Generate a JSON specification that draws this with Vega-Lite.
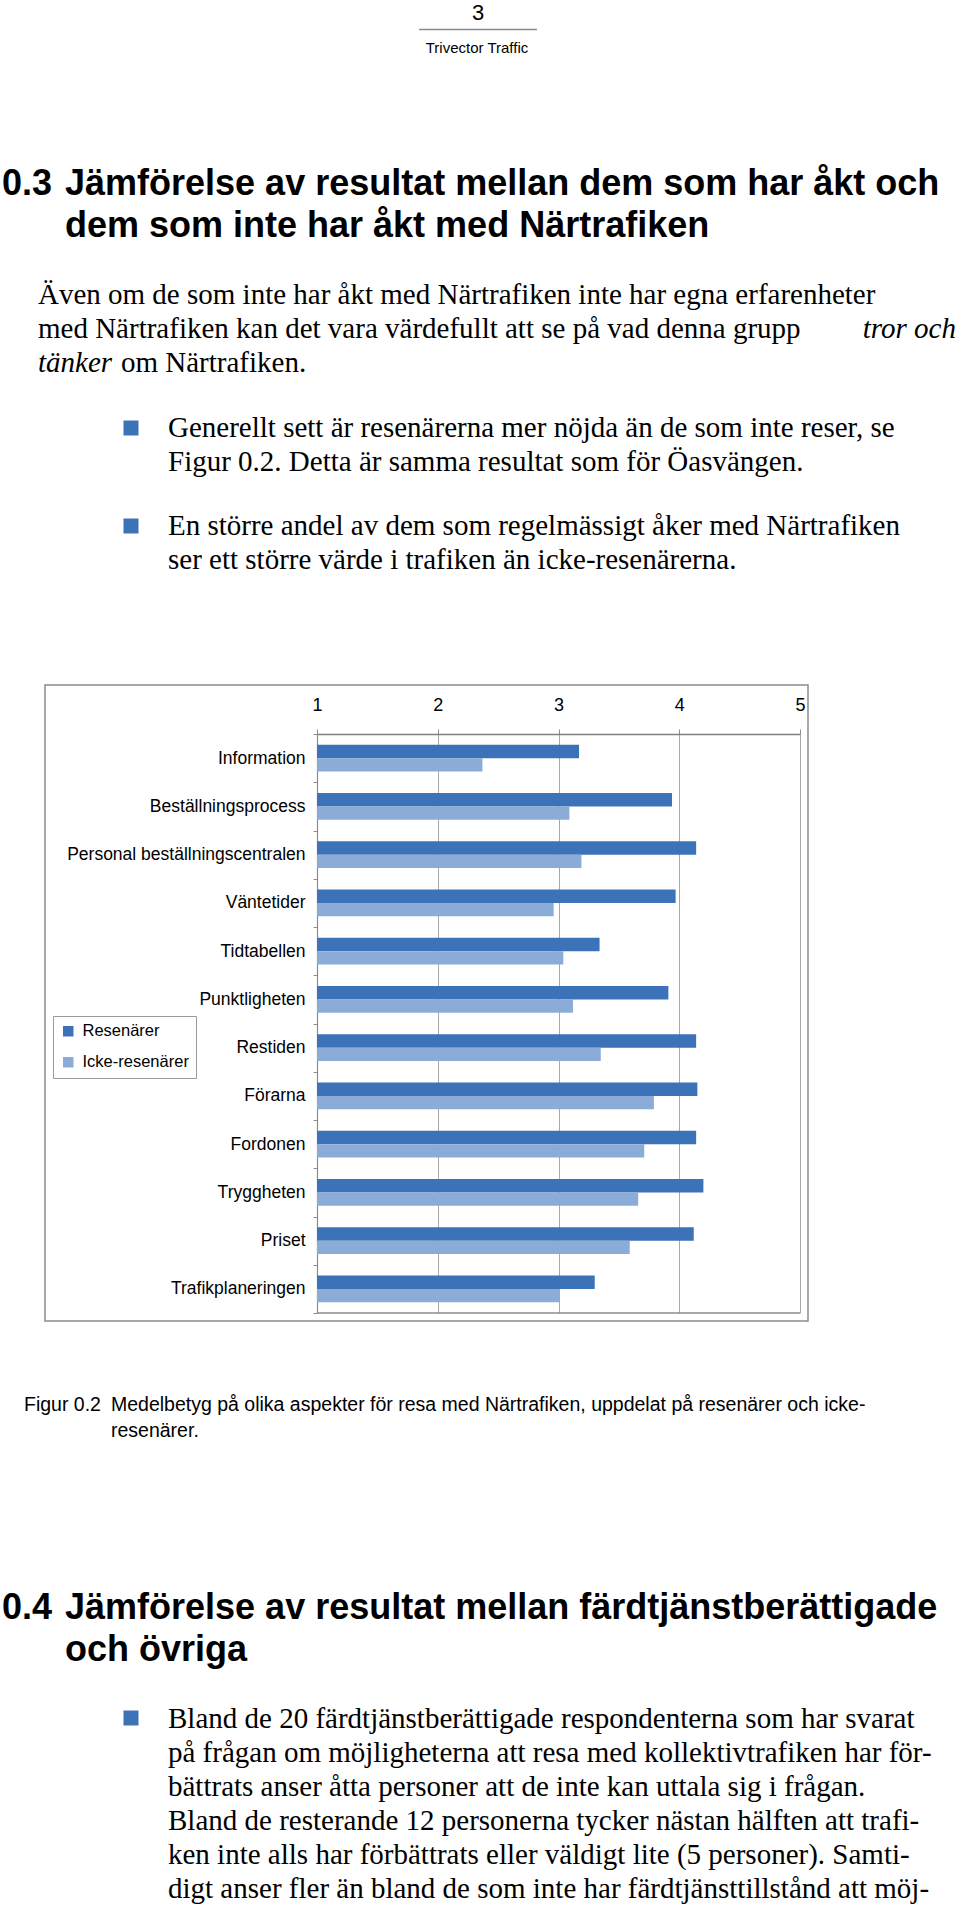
{
  "$schema": "https://vega.github.io/schema/vega-lite/v6.json",
  "background": "white",
  "padding": 0,
  "spacing": 0,
  "config": {"view": {"stroke": null}, "font": "Liberation Sans"},
  "vconcat": [
    {
      "width": 960,
      "height": 675,
      "layer": [
        {"data": {"values": [{"text": "3"}]}, "mark": {"type": "text", "x": 478, "y": 20, "align": "center", "baseline": "alphabetic", "fontSize": 22, "font": "Liberation Sans", "color": "black"}, "encoding": {"text": {"field": "text"}}},
        {"data": {"values": [{"id": "rule"}]}, "mark": {"type": "rule", "color": "#8a8a8a", "strokeWidth": 1.5}, "encoding": {"x": {"value": 419}, "x2": {"value": 537}, "y": {"value": 29.5}}},
        {"data": {"values": [{"text": "Trivector Traffic"}]}, "mark": {"type": "text", "x": 477, "y": 53, "align": "center", "baseline": "alphabetic", "fontSize": 15, "font": "Liberation Sans", "color": "black"}, "encoding": {"text": {"field": "text"}}},
        {"data": {"values": [{"text": "0.3"}]}, "mark": {"type": "text", "x": 2, "y": 195, "align": "left", "baseline": "alphabetic", "fontSize": 36, "fontWeight": "bold", "font": "Liberation Sans", "color": "black"}, "encoding": {"text": {"field": "text"}}},
        {"data": {"values": [{"text": "Jämförelse av resultat mellan dem som har åkt och\ndem som inte har åkt med Närtrafiken"}]}, "mark": {"type": "text", "x": 65, "y": 195, "align": "left", "baseline": "alphabetic", "lineBreak": "\n", "lineHeight": 42, "fontSize": 36, "fontWeight": "bold", "font": "Liberation Sans", "color": "black"}, "encoding": {"text": {"field": "text"}}},
        {"data": {"values": [{"text": "Även om de som inte har åkt med Närtrafiken inte har egna erfarenheter\nmed Närtrafiken kan det vara värdefullt att se på vad denna grupp"}]}, "mark": {"type": "text", "x": 38, "y": 304, "align": "left", "baseline": "alphabetic", "lineBreak": "\n", "lineHeight": 34, "fontSize": 29, "font": "Liberation Serif", "color": "black"}, "encoding": {"text": {"field": "text"}}},
        {"data": {"values": [{"text": "tror och"}]}, "mark": {"type": "text", "x": 956, "y": 338, "align": "right", "baseline": "alphabetic", "fontSize": 29, "fontStyle": "italic", "font": "Liberation Serif", "color": "black"}, "encoding": {"text": {"field": "text"}}},
        {"data": {"values": [{"text": "tänker"}]}, "mark": {"type": "text", "x": 38, "y": 372, "align": "left", "baseline": "alphabetic", "fontSize": 29, "fontStyle": "italic", "font": "Liberation Serif", "color": "black"}, "encoding": {"text": {"field": "text"}}},
        {"data": {"values": [{"text": "om Närtrafiken."}]}, "mark": {"type": "text", "x": 121, "y": 372, "align": "left", "baseline": "alphabetic", "fontSize": 29, "font": "Liberation Serif", "color": "black"}, "encoding": {"text": {"field": "text"}}},
        {"data": {"values": [{"bullet": 1}]}, "mark": {"type": "point", "shape": "square", "filled": true, "size": 225, "opacity": 1, "color": "#3C72B8", "x": 131, "y": 428}, "encoding": {}},
        {"data": {"values": [{"text": "Generellt sett är resenärerna mer nöjda än de som inte reser, se\nFigur 0.2. Detta är samma resultat som för Öasvängen."}]}, "mark": {"type": "text", "x": 168, "y": 437, "align": "left", "baseline": "alphabetic", "lineBreak": "\n", "lineHeight": 34, "fontSize": 29, "font": "Liberation Serif", "color": "black"}, "encoding": {"text": {"field": "text"}}},
        {"data": {"values": [{"bullet": 2}]}, "mark": {"type": "point", "shape": "square", "filled": true, "size": 225, "opacity": 1, "color": "#3C72B8", "x": 131, "y": 526}, "encoding": {}},
        {"data": {"values": [{"text": "En större andel av dem som regelmässigt åker med Närtrafiken\nser ett större värde i trafiken än icke-resenärerna."}]}, "mark": {"type": "text", "x": 168, "y": 535, "align": "left", "baseline": "alphabetic", "lineBreak": "\n", "lineHeight": 34, "fontSize": 29, "font": "Liberation Serif", "color": "black"}, "encoding": {"text": {"field": "text"}}}
      ]
    },
    {
      "spacing": 0,
      "hconcat": [
        {"width": 44, "height": 636, "data": {"values": []}, "mark": {"type": "point", "opacity": 0}, "encoding": {}},
        {
          "width": 763,
          "height": 636,
          "view": {"stroke": "#8c8c8c", "strokeWidth": 1.5},
          "data": {"values": [
            {"aspect": "Information", "group": "Resenärer", "value": 3.17},
            {"aspect": "Information", "group": "Icke-resenärer", "value": 2.37},
            {"aspect": "Beställningsprocess", "group": "Resenärer", "value": 3.94},
            {"aspect": "Beställningsprocess", "group": "Icke-resenärer", "value": 3.09},
            {"aspect": "Personal beställningscentralen", "group": "Resenärer", "value": 4.14},
            {"aspect": "Personal beställningscentralen", "group": "Icke-resenärer", "value": 3.19},
            {"aspect": "Väntetider", "group": "Resenärer", "value": 3.97},
            {"aspect": "Väntetider", "group": "Icke-resenärer", "value": 2.96},
            {"aspect": "Tidtabellen", "group": "Resenärer", "value": 3.34},
            {"aspect": "Tidtabellen", "group": "Icke-resenärer", "value": 3.04},
            {"aspect": "Punktligheten", "group": "Resenärer", "value": 3.91},
            {"aspect": "Punktligheten", "group": "Icke-resenärer", "value": 3.12},
            {"aspect": "Restiden", "group": "Resenärer", "value": 4.14},
            {"aspect": "Restiden", "group": "Icke-resenärer", "value": 3.35},
            {"aspect": "Förarna", "group": "Resenärer", "value": 4.15},
            {"aspect": "Förarna", "group": "Icke-resenärer", "value": 3.79},
            {"aspect": "Fordonen", "group": "Resenärer", "value": 4.14},
            {"aspect": "Fordonen", "group": "Icke-resenärer", "value": 3.71},
            {"aspect": "Tryggheten", "group": "Resenärer", "value": 4.2},
            {"aspect": "Tryggheten", "group": "Icke-resenärer", "value": 3.66},
            {"aspect": "Priset", "group": "Resenärer", "value": 4.12},
            {"aspect": "Priset", "group": "Icke-resenärer", "value": 3.59},
            {"aspect": "Trafikplaneringen", "group": "Resenärer", "value": 3.3},
            {"aspect": "Trafikplaneringen", "group": "Icke-resenärer", "value": 3.01}
          ]},
          "layer": [
            {
              "mark": {"type": "bar"},
              "encoding": {
                "y": {
                  "field": "aspect", "type": "nominal",
                  "sort": ["Information", "Beställningsprocess", "Personal beställningscentralen", "Väntetider", "Tidtabellen", "Punktligheten", "Restiden", "Förarna", "Fordonen", "Tryggheten", "Priset", "Trafikplaneringen"],
                  "scale": {"range": [49, 628], "paddingInner": 0, "paddingOuter": 0},
                  "axis": {"orient": "left", "offset": -272, "title": null, "tickBand": "extent", "tickSize": 4, "tickColor": "#8c8c8c", "domainColor": "#8c8c8c", "domainWidth": 1.2, "labelPadding": 8, "labelFontSize": 17.5, "labelColor": "black", "labelFont": "Liberation Sans", "labelLimit": 400, "grid": false}
                },
                "yOffset": {"field": "group", "type": "nominal", "sort": ["Resenärer", "Icke-resenärer"], "scale": {"paddingInner": 0, "paddingOuter": 0.8}},
                "x": {
                  "field": "value", "type": "quantitative",
                  "scale": {"domain": [1, 5], "range": [272, 755], "zero": false, "nice": false},
                  "axis": {"orient": "top", "offset": -49, "values": [1, 2, 3, 4, 5], "format": "d", "title": null, "tickSize": 5, "tickColor": "#8c8c8c", "domainColor": "#7f7f7f", "domainWidth": 1.5, "labelPadding": 15, "labelFontSize": 18, "labelColor": "black", "labelFont": "Liberation Sans", "labelFlush": false, "grid": true, "gridColor": "#a8a8a8", "gridWidth": 1}
                },
                "x2": {"datum": 1},
                "color": {
                  "field": "group", "type": "nominal",
                  "scale": {"domain": ["Resenärer", "Icke-resenärer"], "range": ["#3C72B8", "#8CACD8"]},
                  "legend": {"orient": "none", "legendX": 53, "legendY": 1016, "title": null, "symbolType": "square", "symbolSize": 110, "symbolStrokeWidth": 0, "labelFontSize": 16.5, "labelFont": "Liberation Sans", "labelColor": "black", "strokeColor": "#9a9a9a", "padding": 7, "rowPadding": 14, "labelOffset": 6}
                }
              }
            },
            {
              "transform": [{"filter": "datum.aspect === 'Trafikplaneringen' && datum.group === 'Resenärer'"}],
              "mark": {"type": "rule", "color": "#8c8c8c", "strokeWidth": 1.5},
              "encoding": {
                "y": {"field": "aspect", "type": "nominal", "bandPosition": 1, "sort": ["Information", "Beställningsprocess", "Personal beställningscentralen", "Väntetider", "Tidtabellen", "Punktligheten", "Restiden", "Förarna", "Fordonen", "Tryggheten", "Priset", "Trafikplaneringen"]},
                "x": {"datum": 1},
                "x2": {"datum": 5}
              }
            }
          ]
        }
      ]
    },
    {
      "width": 960,
      "height": 584,
      "layer": [
        {"data": {"values": [{"text": "Figur 0.2"}]}, "mark": {"type": "text", "x": 24, "y": 89, "align": "left", "baseline": "alphabetic", "fontSize": 19.5, "font": "Liberation Sans", "color": "black"}, "encoding": {"text": {"field": "text"}}},
        {"data": {"values": [{"text": "Medelbetyg på olika aspekter för resa med Närtrafiken, uppdelat på resenärer och icke-\nresenärer."}]}, "mark": {"type": "text", "x": 111, "y": 89, "align": "left", "baseline": "alphabetic", "lineBreak": "\n", "lineHeight": 26, "fontSize": 19.5, "font": "Liberation Sans", "color": "black"}, "encoding": {"text": {"field": "text"}}},
        {"data": {"values": [{"text": "0.4"}]}, "mark": {"type": "text", "x": 2, "y": 297, "align": "left", "baseline": "alphabetic", "fontSize": 36, "fontWeight": "bold", "font": "Liberation Sans", "color": "black"}, "encoding": {"text": {"field": "text"}}},
        {"data": {"values": [{"text": "Jämförelse av resultat mellan färdtjänstberättigade\noch övriga"}]}, "mark": {"type": "text", "x": 65, "y": 297, "align": "left", "baseline": "alphabetic", "lineBreak": "\n", "lineHeight": 42, "fontSize": 36, "fontWeight": "bold", "font": "Liberation Sans", "color": "black"}, "encoding": {"text": {"field": "text"}}},
        {"data": {"values": [{"bullet": 3}]}, "mark": {"type": "point", "shape": "square", "filled": true, "size": 225, "opacity": 1, "color": "#3C72B8", "x": 131, "y": 396}, "encoding": {}},
        {"data": {"values": [{"text": "Bland de 20 färdtjänstberättigade respondenterna som har svarat\npå frågan om möjligheterna att resa med kollektivtrafiken har för-\nbättrats anser åtta personer att de inte kan uttala sig i frågan.\nBland de resterande 12 personerna tycker nästan hälften att trafi-\nken inte alls har förbättrats eller väldigt lite (5 personer). Samti-\ndigt anser fler än bland de som inte har färdtjänsttillstånd att möj-"}]}, "mark": {"type": "text", "x": 168, "y": 406, "align": "left", "baseline": "alphabetic", "lineBreak": "\n", "lineHeight": 34, "fontSize": 29, "font": "Liberation Serif", "color": "black"}, "encoding": {"text": {"field": "text"}}}
      ]
    }
  ]
}
